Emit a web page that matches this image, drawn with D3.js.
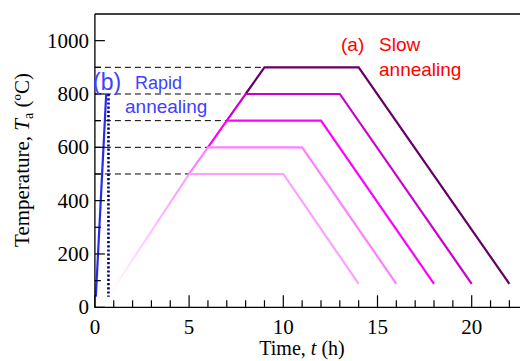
<!DOCTYPE html>
<html><head><meta charset="utf-8">
<script src="https://cdn.jsdelivr.net/npm/d3@7/dist/d3.min.js"></script>
<style>body{margin:0;background:#fff}svg{display:block}</style>
</head><body><svg id="c" width="520" height="361"></svg>
<script>
// Slow annealing profiles: annealing temperature, plateau start/end, cool end
const annealTemps = [900, 800, 700, 600, 500];
const plateauStart = [9, 8, 7, 6, 5];
const plateauEnd = [14, 13, 12, 11, 10];
const coolEndTime = [22, 20, 18, 16, 14];
const startPoint = {t: 0.75, T: 45};
const endTemp = 88;
const slowColors = ["#660066", "#cc00cc", "#ff00ff", "#ff80ff", "#ffa0ff"];
// Rapid annealing
const rapidHeat = [{t: 0.05, T: 40}, {t: 0.6, T: 800}];
const rapidCool = [{t: 0.72, T: 800}, {t: 0.72, T: 40}];
const xTicks = [0, 5, 10, 15, 20];
const yTicks = [0, 200, 400, 600, 800, 1000];

const svg = d3.select("#c");
const x = d3.scaleLinear().domain([0, 23]).range([94.9, 94.9 + 18.84 * 23]);
const y = d3.scaleLinear().domain([0, 1100]).range([307.3, 14]);
const serif = "'Liberation Serif','Times New Roman',serif";
const sans = "'Liberation Sans',Arial,sans-serif";

const defs = svg.append("defs");
const g0 = defs.append("linearGradient").attr("id", "fade").attr("gradientUnits", "userSpaceOnUse")
  .attr("x1", x(startPoint.t)).attr("y1", y(startPoint.T)).attr("x2", x(5)).attr("y2", y(500));
g0.append("stop").attr("offset", 0).attr("stop-color", "#ffffff");
g0.append("stop").attr("offset", 0.5).attr("stop-color", "#ffc8ff");
g0.append("stop").attr("offset", 0.85).attr("stop-color", "#ffa0ff");
g0.append("stop").attr("offset", 1).attr("stop-color", "#ffa0ff");

// dashed guides
annealTemps.forEach((T, i) => {
  svg.append("line").attr("x1", x(0)).attr("x2", x(plateauStart[i])).attr("y1", y(T)).attr("y2", y(T))
    .attr("stroke", "#000").attr("stroke-width", 1).attr("stroke-dasharray", "6,4");
});

const line = d3.line().x(d => x(d.t)).y(d => y(d.T));
annealTemps.forEach((T, i) => {
  // each profile's heating ramp is drawn only above the next lower profile's plateau
  const lower = i + 1 < annealTemps.length ? {t: plateauStart[i + 1], T: annealTemps[i + 1]} : startPoint;
  const pts = [lower, {t: plateauStart[i], T}, {t: plateauEnd[i], T}, {t: coolEndTime[i], T: endTemp}];
  svg.append("path").attr("d", line(pts)).attr("fill", "none")
    .attr("stroke", i === annealTemps.length - 1 ? null : slowColors[i]).attr("stroke-width", 2.2)
    .attr("stroke-linejoin", "miter");
});
// lightest profile: faded ramp + plateau + cooling
{
  const i = annealTemps.length - 1, T = annealTemps[i];
  svg.append("path").attr("d", line([startPoint, {t: plateauStart[i], T}]))
    .attr("fill", "none").attr("stroke", "url(#fade)").attr("stroke-width", 2.2);
  svg.append("path").attr("d", line([{t: plateauStart[i], T}, {t: plateauEnd[i], T}, {t: coolEndTime[i], T: endTemp}]))
    .attr("fill", "none").attr("stroke", slowColors[i]).attr("stroke-width", 2.2);
}
svg.selectAll("path").filter(function(){ return this.getAttribute("stroke") === null; }).remove();

// rapid
svg.append("path").attr("d", line(rapidHeat)).attr("fill", "none").attr("stroke", "#2a2aee").attr("stroke-width", 2.2);
svg.append("path").attr("d", line(rapidCool)).attr("fill", "none").attr("stroke", "#000080")
  .attr("stroke-width", 2.6).attr("stroke-dasharray", "2.2,2");

// frame
const x1 = x(23);
svg.append("path").attr("d", `M${x(0)},${y(1100)}H${x1}M${x(0)},${y(1100)}V${y(0)}H${x1}`)
  .attr("fill", "none").attr("stroke", "#000").attr("stroke-width", 1.3);

// ticks
d3.range(0, 23, 1).forEach(v => {
  const major = v % 5 === 0;
  svg.append("line").attr("x1", x(v)).attr("x2", x(v)).attr("y1", y(0)).attr("y2", y(0) - (major ? 12 : 7))
    .attr("stroke", "#000").attr("stroke-width", 1.2);
});
d3.range(0, 1100, 100).forEach(v => {
  const major = v % 200 === 0;
  svg.append("line").attr("y1", y(v)).attr("y2", y(v)).attr("x1", x(0)).attr("x2", x(0) + (major ? 10 : 6))
    .attr("stroke", "#000").attr("stroke-width", 1.2);
});
svg.selectAll(".xl").data(xTicks).enter().append("text")
  .attr("x", d => x(d)).attr("y", 334).attr("text-anchor", "middle")
  .attr("font-family", serif).attr("font-size", 21).text(d => d);
svg.selectAll(".yl").data(yTicks).enter().append("text")
  .attr("x", 89).attr("y", d => y(d) + 7).attr("text-anchor", "end")
  .attr("font-family", serif).attr("font-size", 21).text(d => d);

// axis titles
const xt = svg.append("text").attr("x", 302).attr("y", 355).attr("text-anchor", "middle")
  .attr("font-family", serif).attr("font-size", 20);
xt.append("tspan").text("Time, ");
xt.append("tspan").attr("font-style", "italic").text("t");
xt.append("tspan").text(" (h)");

const yt = svg.append("text").attr("transform", "translate(29,160) rotate(-90)").attr("text-anchor", "middle")
  .attr("font-family", serif).attr("font-size", 21);
yt.append("tspan").text("Temperature, ");
yt.append("tspan").attr("font-style", "italic").text("T");
yt.append("tspan").attr("font-size", 14).attr("dy", 4).text("a");
yt.append("tspan").attr("dy", -4).text(" (ºC)");

// annotations
svg.append("text").attr("x", 93).attr("y", 90).attr("font-family", sans).attr("font-size", 23).attr("fill", "#4040ff").text("(b)");
svg.append("text").attr("x", 135).attr("y", 89).attr("font-family", sans).attr("font-size", 18).attr("fill", "#4040ff").text("Rapid");
svg.append("text").attr("x", 125).attr("y", 113).attr("font-family", sans).attr("font-size", 19).attr("fill", "#4040ff").text("annealing");
svg.append("text").attr("x", 341).attr("y", 51).attr("font-family", sans).attr("font-size", 19).attr("fill", "#ff0000").text("(a)");
svg.append("text").attr("x", 379).attr("y", 51).attr("font-family", sans).attr("font-size", 19).attr("fill", "#ff0000").text("Slow");
svg.append("text").attr("x", 379).attr("y", 76).attr("font-family", sans).attr("font-size", 19).attr("fill", "#ff0000").text("annealing");
</script></body></html>
